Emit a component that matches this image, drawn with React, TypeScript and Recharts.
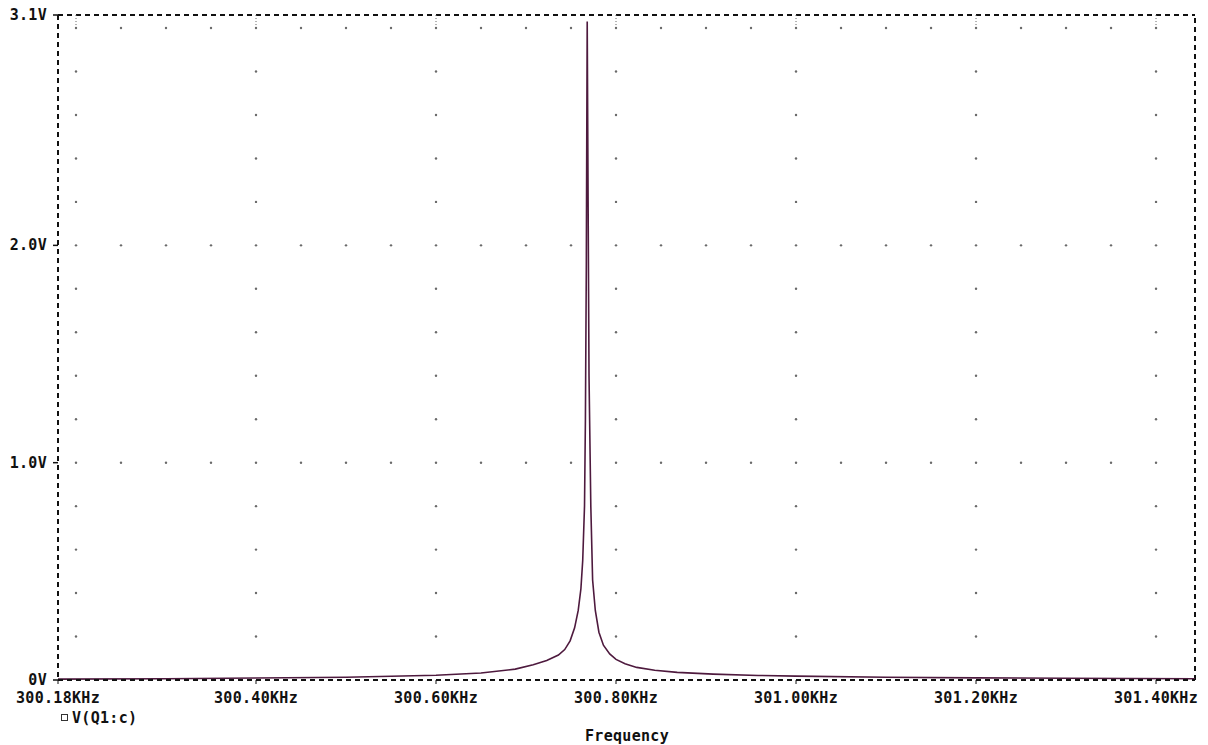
import React from 'react';
import { LineChart, Line, XAxis, YAxis, ReferenceLine, ReferenceDot } from 'recharts';

// AC sweep of V(Q1:c) around the crystal resonance (kHz, V)
const freqKHz = [
  300.18, 300.3, 300.4, 300.5, 300.6, 300.65, 300.688, 300.708, 300.723, 300.736,
  300.743, 300.749, 300.754, 300.758, 300.761, 300.763, 300.765, 300.766,
  300.767, 300.7675, 300.768, 300.769, 300.770, 300.772, 300.774, 300.777,
  300.781, 300.786, 300.793, 300.8, 300.81, 300.823, 300.843, 300.868, 300.908,
  300.958, 301.0, 301.1, 301.2, 301.3, 301.4433,
];
const voltsQ1c = [
  0.004, 0.006, 0.009, 0.013, 0.022, 0.032, 0.05, 0.07, 0.09, 0.115,
  0.14, 0.18, 0.24, 0.32, 0.42, 0.55, 0.8, 1.2,
  1.9, 2.5, 3.03, 2.2, 1.4, 0.8, 0.46, 0.32,
  0.22, 0.16, 0.12, 0.095, 0.075, 0.058, 0.045, 0.035, 0.027,
  0.021, 0.018, 0.013, 0.01, 0.008, 0.006,
];

const xTicks = [300.18, 300.4, 300.6, 300.8, 301.0, 301.2, 301.4];
const yTicks = [0, 1, 2, 3.06];
const majorFreqs = [300.2, 300.4, 300.6, 300.8, 301.0, 301.2, 301.4];
const majorVolts = [1, 2, 3];

const X_MIN = 300.18;
const X_MAX = 301.4433;
const Y_MAX = 3.06;

const data = freqKHz.map((f, i) => ({ f, v: voltsQ1c[i] }));

const FONT = '"DejaVu Sans Mono", monospace';
const INK = '#111';
const TRACE = '#4e1a3e';

// dotted grid: dots along major columns every 0.2V, along major rows every 0.05kHz
const gridDots: { x: number; y: number }[] = [];
majorFreqs.forEach((fx) => {
  for (let k = 1; k <= 15; k++) gridDots.push({ x: fx, y: Math.round(k * 0.2 * 10) / 10 });
});
majorVolts.forEach((vy) => {
  for (let k = 0; k <= 24; k++) {
    const fx = Math.round((300.2 + k * 0.05) * 1000) / 1000;
    if (k % 4 !== 0) gridDots.push({ x: fx, y: vy });
  }
});

const fmtKHz = (v: number) => v.toFixed(2) + 'KHz';
const fmtVolt = (v: number) => (v === 0 ? '0V' : v.toFixed(1) + 'V');

const textStyle = {
  fontFamily: FONT,
  fontWeight: 'bold' as const,
  fontSize: 15,
  letterSpacing: 0.3,
  fill: INK,
};

const XTick = (props: any) => {
  const { x, y, payload } = props;
  return (
    <text x={x} y={y} dy={17} textAnchor="middle" {...textStyle}>
      {fmtKHz(payload.value)}
    </text>
  );
};

const YTick = (props: any) => {
  const { x, y, payload } = props;
  return (
    <text x={x} y={y} dy={5} textAnchor="end" {...textStyle}>
      {fmtVolt(payload.value)}
    </text>
  );
};

const frameLine = { stroke: INK, strokeWidth: 2, strokeDasharray: '5 4' };

export default function App() {
  return (
    <div style={{ position: 'absolute', left: 0, top: 0, width: 1208, height: 745, background: '#fff' }}>
      <LineChart width={1208} height={745} data={data} margin={{ top: 15, right: 13, bottom: 0, left: 0 }}>
        <XAxis
          dataKey="f"
          type="number"
          domain={[X_MIN, X_MAX]}
          ticks={xTicks}
          allowDataOverflow
          height={65}
          tickSize={4}
          tickLine={{ stroke: INK }}
          axisLine={frameLine}
          tick={<XTick />}
          interval={0}
        />
        <YAxis
          type="number"
          domain={[0, Y_MAX]}
          ticks={yTicks}
          allowDataOverflow
          width={58}
          tickSize={5}
          tickMargin={6}
          tickLine={{ stroke: INK, strokeWidth: 1.5 }}
          axisLine={frameLine}
          tick={<YTick />}
          interval={0}
        />
        <ReferenceLine y={Y_MAX} {...frameLine} />
        <ReferenceLine x={X_MAX} {...frameLine} />
        {majorFreqs.map((fx) => (
          <ReferenceLine
            key={'top' + fx}
            segment={[{ x: fx, y: 3 }, { x: fx, y: Y_MAX }]}
            stroke="#666"
            strokeDasharray="1 2"
          />
        ))}
        {gridDots.map((d, i) => (
          <ReferenceDot key={i} x={d.x} y={d.y} r={1.2} fill="#6a6a6a" stroke="none" />
        ))}
        <Line
          type="linear"
          dataKey="v"
          stroke={TRACE}
          strokeWidth={1.6}
          dot={false}
          isAnimationActive={false}
        />
      </LineChart>
      <div style={{ position: 'absolute', left: 61, top: 714, width: 5, height: 5, border: '1px solid #333' }} />
      <div style={{ position: 'absolute', left: 72, top: 709, fontFamily: FONT, fontWeight: 'bold', fontSize: 15, letterSpacing: 0.3, color: INK, whiteSpace: 'nowrap' }}>
        V(Q1:c)
      </div>
      <div style={{ position: 'absolute', left: 585, top: 727, fontFamily: FONT, fontWeight: 'bold', fontSize: 15, letterSpacing: 0.3, color: INK, whiteSpace: 'nowrap' }}>
        Frequency
      </div>
    </div>
  );
}
